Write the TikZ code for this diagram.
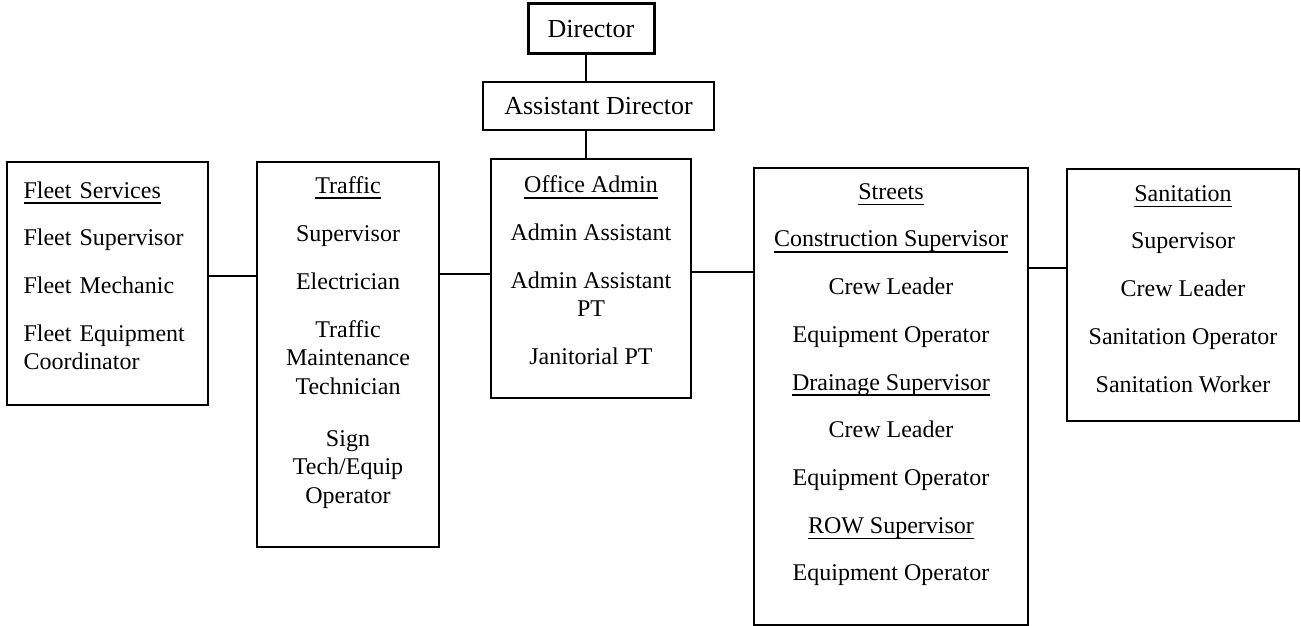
\documentclass[tikz,border=0pt]{standalone}
\usepackage{fontspec}
\setmainfont{Liberation Serif}
\usetikzlibrary{positioning}

\newcommand{\itemgap}{19.2pt}
\newcommand{\headline}[1]{\setbox0=\hbox{#1}\rlap{\rule[-5.6pt]{\wd0}{1.2pt}}\box0}

\begin{document}
\begin{tikzpicture}[x=1pt, y=-1pt,
  unit/.style={draw, line width=1.3pt, inner sep=0pt},
  head/.style={unit, font=\fontsize{26}{30}\selectfont},
  roster/.style={inner sep=0pt, align=center, font=\fontsize{24}{28.5}\selectfont},
  link/.style={line width=2pt}]
  \useasboundingbox (0,0) rectangle (1301,626);
  % top of the chart
  \node[head, line width=3pt, minimum width=126pt, minimum height=50pt] (director) at (591,29) {Director};
  \node[head, minimum width=231pt, minimum height=48pt] (assistant) at (598.5,106) {Assistant Director};
  % divisions
  \node[unit, minimum width=201pt, minimum height=243pt] (fleet) at (107.5,283.5) {};
  \node[unit, minimum width=182pt, minimum height=385pt] (traffic) at (348,354.5) {};
  \node[unit, minimum width=200pt, minimum height=239pt] (office) at (591,278.5) {};
  \node[unit, minimum width=274pt, minimum height=457pt] (streets) at (891,396.5) {};
  \node[unit, minimum width=232pt, minimum height=252pt] (sanitation) at (1183,295) {};
  % staff lists
  \node[roster, anchor=north west, text width=175pt, align=left,
    below right=19.8pt and 17pt of fleet.north west] (fleettxt) {%
    \headline{Fleet Services}\\[\itemgap]
    Fleet Supervisor\\[\itemgap]
    Fleet Mechanic\\[\itemgap]
    Fleet Equipment\\Coordinator};
  \node[roster, below=14.6pt of traffic.north] (traffictxt) {%
    \headline{Traffic}\\[19.6pt]
    Supervisor\\[19.6pt]
    Electrician\\[19.6pt]
    Traffic\\Maintenance\\Technician\\[23.5pt]
    Sign\\Tech/Equip\\Operator};
  \node[roster, below=17.5pt of office.north] (officetxt) {%
    \headline{Office Admin}\\[\itemgap]
    Admin Assistant\\[\itemgap]
    Admin Assistant\\PT\\[\itemgap]
    Janitorial PT};
  \node[roster, below=15.8pt of streets.north] (streetstxt) {%
    \headline{Streets}\\[\itemgap]
    \headline{Construction Supervisor}\\[\itemgap]
    Crew Leader\\[\itemgap]
    Equipment Operator\\[\itemgap]
    \headline{Drainage Supervisor}\\[\itemgap]
    Crew Leader\\[\itemgap]
    Equipment Operator\\[\itemgap]
    \headline{ROW Supervisor}\\[\itemgap]
    Equipment Operator};
  \node[roster, below=16.8pt of sanitation.north] (sanitationtxt) {%
    \headline{Sanitation}\\[\itemgap]
    Supervisor\\[\itemgap]
    Crew Leader\\[\itemgap]
    Sanitation Operator\\[\itemgap]
    Sanitation Worker};
  % connectors
  \coordinate (spine) at (586,0);
  \coordinate (tie1) at (0,276);
  \coordinate (tie2) at (0,274);
  \coordinate (tie3) at (0,272);
  \coordinate (tie4) at (0,268);
  \draw[link] (director.south -| spine) -- (assistant.north -| spine);
  \draw[link] (assistant.south -| spine) -- (office.north -| spine);
  \draw[link] (fleet.east |- tie1) -- (traffic.west |- tie1);
  \draw[link] (traffic.east |- tie2) -- (office.west |- tie2);
  \draw[link] (office.east |- tie3) -- (streets.west |- tie3);
  \draw[link] (streets.east |- tie4) -- (sanitation.west |- tie4);
\end{tikzpicture}
\end{document}
